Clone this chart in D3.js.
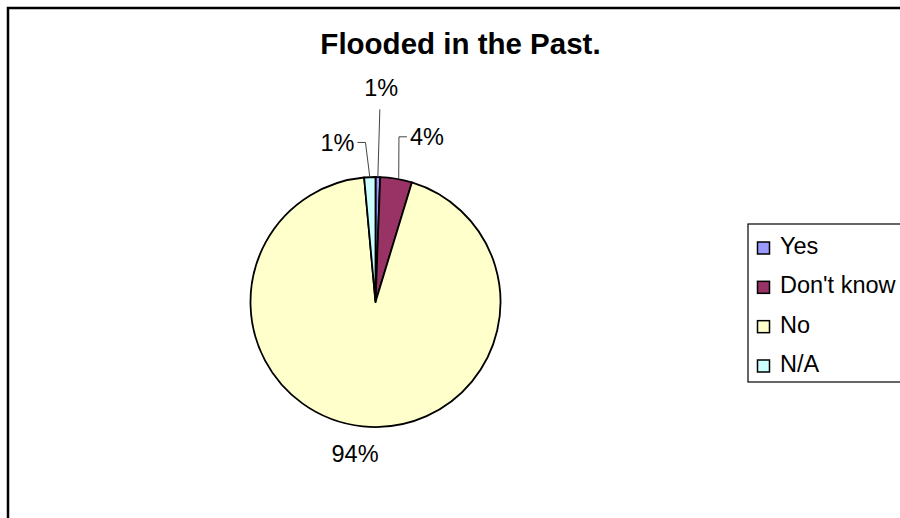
<!DOCTYPE html>
<html>
<head>
<meta charset="utf-8">
<script src="https://cdn.jsdelivr.net/npm/d3@7"></script>
<style>
  body { margin: 0; background: #fff; }
  text { font-family: "Liberation Sans", Arial, Helvetica, sans-serif; }
</style>
</head>
<body>
<div id="chart"></div>
<script>
const width = 900;
const height = 518;

// data
const categories = ["Yes", "Don't know", "No", "N/A"];
const values = [0.6, 4.1, 93.85, 1.45];
const colors = ["#9999FF", "#993366", "#FFFFCC", "#CCFFFF"];

// label placement (angle in degrees from 12 o'clock, distance from centre)
const labelAngles = [1.5, 17.3, 187.7, -13.4];
const labelRadii = [214.8, 173, 152.7, 164];

const cx = 375.5, cy = 302, radius = 125;

const svg = d3.select("#chart")
    .append("svg")
    .attr("width", width)
    .attr("height", height);

// chart border (runs off right / bottom)
svg.append("rect")
    .attr("x", 8)
    .attr("y", 8)
    .attr("width", 1000)
    .attr("height", 1000)
    .attr("fill", "#fff")
    .attr("stroke", "#000")
    .attr("stroke-width", 2.5);

// title
svg.append("text")
    .attr("x", 460.5)
    .attr("y", 54)
    .attr("text-anchor", "middle")
    .style("font-size", "29.5px")
    .style("font-weight", "bold")
    .text("Flooded in the Past.");

// pie
const data = categories.map((c, i) => ({ name: c, value: values[i], color: colors[i], i: i }));

const pie = d3.pie().sort(null).value(d => d.value);
const arc = d3.arc().innerRadius(0).outerRadius(radius);
const arcs = pie(data);

const g = svg.append("g").attr("transform", `translate(${cx},${cy})`);

g.selectAll("path")
    .data(arcs)
    .enter()
    .append("path")
    .attr("d", arc)
    .attr("fill", d => d.data.color)
    .attr("stroke", "#000")
    .attr("stroke-width", 1.8)
    .attr("stroke-linejoin", "round");

// labels + leader lines
const fmt = v => Math.round(v) + "%";

arcs.forEach((d, i) => {
    const a = labelAngles[i] * Math.PI / 180;
    const lr = labelRadii[i];
    const lx = lr * Math.sin(a);
    const ly = -lr * Math.cos(a);

    const t = g.append("text")
        .attr("x", lx)
        .attr("y", ly)
        .attr("dy", "0.35em")
        .attr("text-anchor", "middle")
        .style("font-size", "23.5px")
        .text(fmt(d.data.value));

    if (lr < 160) return;

    const w = t.node().getComputedTextLength();
    const mid = (d.startAngle + d.endAngle) / 2;
    const ax = radius * Math.sin(mid);
    const ay = -radius * Math.cos(mid);

    let pts;
    if (ax >= lx - w / 2 && ax <= lx + w / 2) {
        pts = [[ax + 2, ly + 22], [ax, ay]];
    } else if (ax < lx) {
        const c = lx - w / 2 - 3;
        pts = [[c, ly], [c - 8, ly], [ax + 2.5, ay]];
    } else {
        const c = lx + w / 2 + 3;
        pts = [[c, ly], [c + 8, ly], [ax, ay]];
    }

    g.append("path")
        .attr("d", d3.line()(pts))
        .attr("fill", "none")
        .attr("stroke", "#444")
        .attr("stroke-width", 1);
});

// legend
const legend = svg.append("g");

legend.append("rect")
    .attr("x", 748)
    .attr("y", 224)
    .attr("width", 300)
    .attr("height", 158)
    .attr("fill", "#fff")
    .attr("stroke", "#000")
    .attr("stroke-width", 1.2);

const rowY = d3.scalePoint()
    .domain(categories)
    .range([254, 372]);

const item = legend.selectAll(".item")
    .data(data)
    .enter()
    .append("g")
    .attr("transform", d => `translate(0,${rowY(d.name)})`);

item.append("rect")
    .attr("x", 757.5)
    .attr("y", -12)
    .attr("width", 12)
    .attr("height", 12)
    .attr("fill", d => d.color)
    .attr("stroke", "#000")
    .attr("stroke-width", 1.5);

item.append("text")
    .attr("x", 780)
    .attr("y", 0)
    .style("font-size", "23.5px")
    .text(d => d.name);
</script>
</body>
</html>
